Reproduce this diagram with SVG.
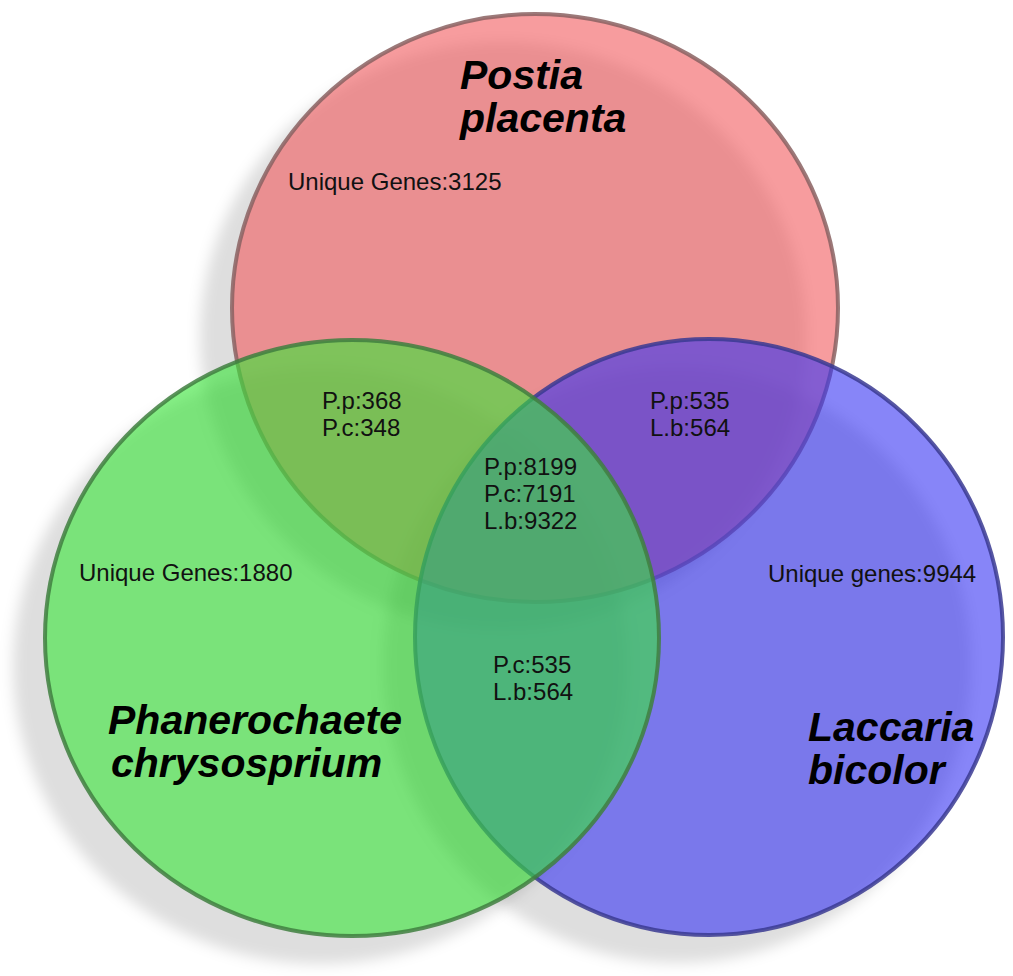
<svg xmlns="http://www.w3.org/2000/svg" width="1013" height="976" viewBox="0 0 1013 976">
<defs>
<filter id="blur" x="-20%" y="-20%" width="140%" height="140%"><feGaussianBlur stdDeviation="7"/></filter>
</defs>
<style>
.sh{fill:#000;fill-opacity:0.13;filter:url(#blur)}
.c{stroke-width:4;fill-opacity:0.6;stroke-opacity:0.85}
.t{font-family:"Liberation Sans",Arial,sans-serif;font-size:24px;fill:#111}
.n{font-family:"Liberation Sans",Arial,sans-serif;font-size:41px;font-weight:bold;font-style:italic;fill:#000}
</style>
<rect width="1013" height="976" fill="#fff"/>
<g id="shadows">
<ellipse class="sh" cx="503" cy="336" rx="303" ry="294"/>
<ellipse class="sh" cx="677" cy="665" rx="294" ry="298"/>
<ellipse class="sh" cx="320" cy="666" rx="307" ry="298"/>
</g>
<g id="connectors"></g>
<g id="postia">
<ellipse class="c" cx="535" cy="308" rx="303" ry="294" fill="#F25A5E" stroke="#8a6262"/>
</g>
<g id="laccaria">
<ellipse class="c" cx="709" cy="637" rx="294" ry="298" fill="#3734F3" stroke="#3a3a92"/>
</g>
<g id="phanerochaete">
<ellipse class="c" cx="352" cy="638" rx="307" ry="298" fill="#37E637" stroke="#3f7f3f"/>
</g>
<g id="labels">
<text class="n" x="460" y="89">Postia</text>
<text class="n" x="460" y="132">placenta</text>
<text class="t" x="288" y="190">Unique Genes:3125</text>
<text class="t" x="322" y="409">P.p:368</text>
<text class="t" x="322" y="436">P.c:348</text>
<text class="t" x="650" y="409">P.p:535</text>
<text class="t" x="650" y="436">L.b:564</text>
<text class="t" x="484" y="475">P.p:8199</text>
<text class="t" x="484" y="502">P.c:7191</text>
<text class="t" x="484" y="529">L.b:9322</text>
<text class="t" x="79" y="581">Unique Genes:1880</text>
<text class="t" x="768" y="582">Unique genes:9944</text>
<text class="t" x="493" y="673">P.c:535</text>
<text class="t" x="493" y="700">L.b:564</text>
<text class="n" x="108" y="734">Phanerochaete</text>
<text class="n" x="111" y="777">chrysosprium</text>
<text class="n" x="808" y="741">Laccaria</text>
<text class="n" x="808" y="784">bicolor</text>
</g>
</svg>
